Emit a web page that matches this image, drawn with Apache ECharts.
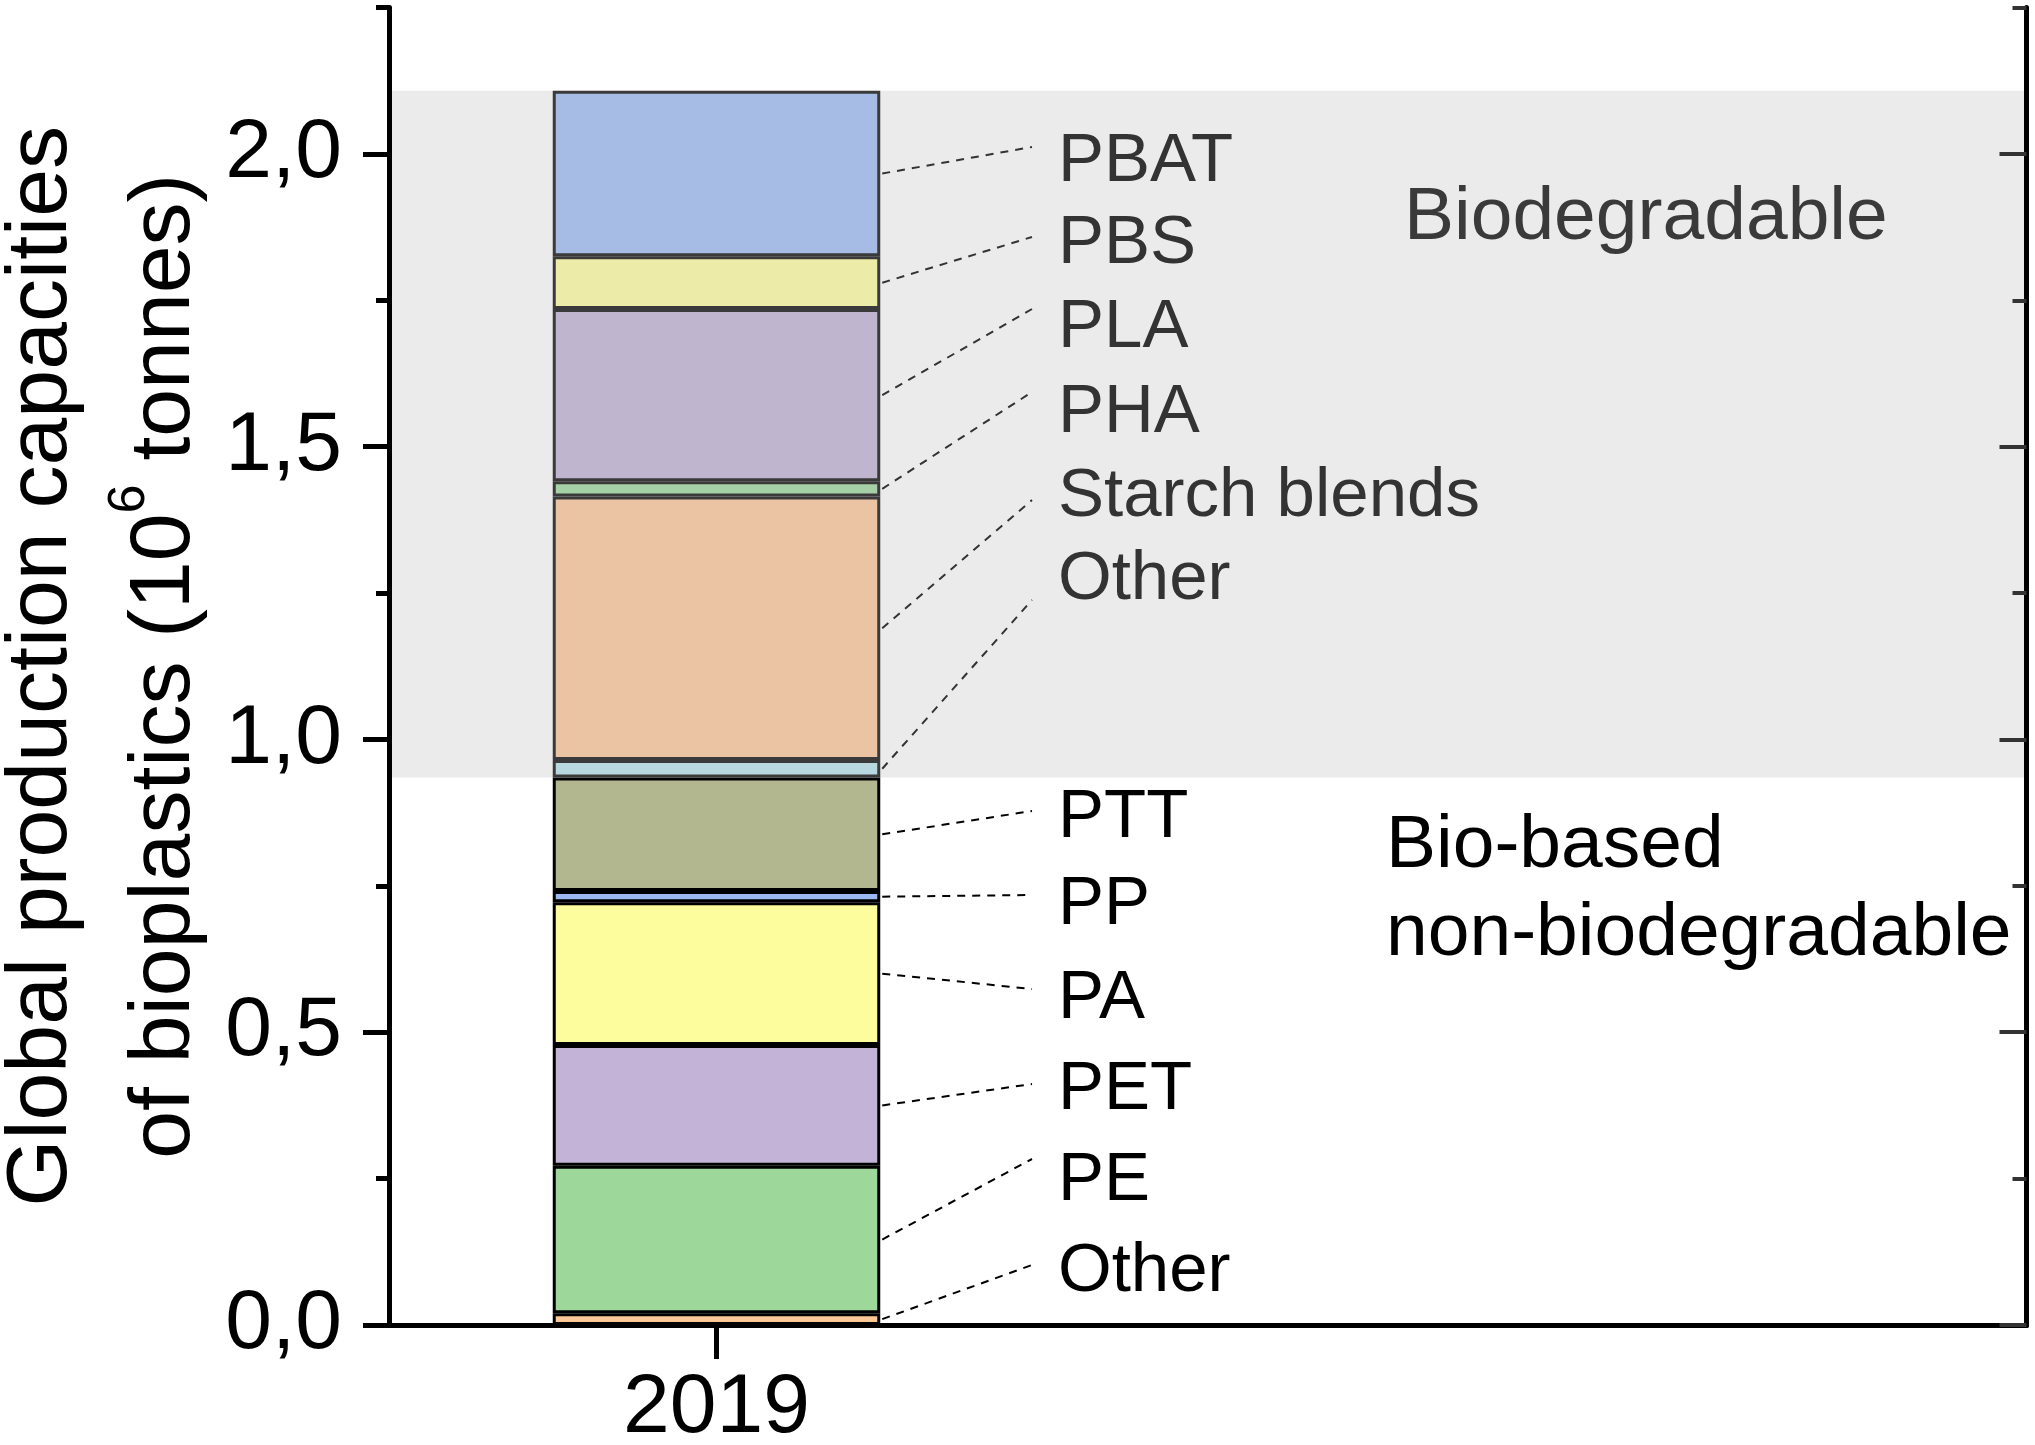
<!DOCTYPE html>
<html>
<head>
<meta charset="utf-8">
<script src="https://cdn.jsdelivr.net/npm/echarts@6/dist/echarts.min.js"></script>
<style>html,body{margin:0;padding:0;background:#fff}#c{width:2035px;height:1445px}</style>
</head>
<body>
<div id="c"></div>
<script>
// ---- data ----
const categories = ['2019'];
const bioBasedNames = ['Other', 'PE', 'PET', 'PA', 'PP', 'PTT'];
const bioBasedValues = [0.020, 0.252, 0.206, 0.244, 0.019, 0.194];
const biodegradableNames = ['Other', 'Starch blends', 'PHA', 'PLA', 'PBS', 'PBAT'];
const biodegradableValues = [0.030, 0.450, 0.026, 0.294, 0.090, 0.283];
const yTickValues = [0, 0.5, 1.0, 1.5, 2.0];
const yMinorTickValues = [0.25, 0.75, 1.25, 1.75, 2.25];
const groupLabels = ['Biodegradable', 'Bio-based', 'non-biodegradable'];

// ---- styles / layout ----
const FONT = '"Liberation Sans", Arial, sans-serif';
const bioBasedColors = ['#fdc895', '#9ed79a', '#c3b3d7', '#fdfd9d', '#9bb8f0', '#b2b790'];
const biodegColors = ['#b8d8e0', '#ebc4a4', '#a6d0a6', '#bfb5cf', '#ececa8', '#a6bce4'];
const bioBasedLabelY = [1272, 1181, 1090, 999, 905, 818];
const biodegLabelY = [580, 497, 413, 328, 244, 162];
const bioBasedLeaderDy = [-7, -22, -6, -10, -10, -7];
const biodegLeaderDy = [20, 3, -21, -19, -7, -15];
const LABEL_X = 1058, LEADER_END_X = 1032;

// category axis padded so the single bar sits at 1/5 of the width with width 1/5
const xCats = ['', categories[0], '', '', '', ''];
const catIdx = 1;

function makeBar(name, v, color, border) {
  const data = xCats.map((c, i) => (i === catIdx ? v : null));
  return {
    type: 'bar', name: name, stack: 'total', barWidth: '100%', data: data,
    itemStyle: { color: color, borderColor: border, borderWidth: 3 },
    emphasis: { disabled: true }, silent: true
  };
}
const series = [];
bioBasedNames.forEach((n, i) => series.push(makeBar(n, bioBasedValues[i], bioBasedColors[i], '#000')));
biodegradableNames.forEach((n, i) => series.push(makeBar(n, biodegradableValues[i], biodegColors[i], '#3a3a3a')));

const bioTotal = bioBasedValues.reduce((a, b) => a + b, 0);
const total = bioTotal + biodegradableValues.reduce((a, b) => a + b, 0);
series[bioBasedNames.length].markArea = {
  silent: true,
  itemStyle: { color: '#ebebeb', borderWidth: 0 },
  label: { show: false },
  data: [[{ yAxis: bioTotal }, { yAxis: total }]]
};

const fmt = v => v.toFixed(1).replace('.', ',');
const baseY = {
  type: 'value', min: 0, max: 2.25, z: 5,
  splitLine: { show: false }, minorTick: { show: false }
};
const titleTok = { fontSize: 86, fontFamily: FONT, color: '#000', lineHeight: 123 };

const option = {
  animation: false,
  grid: { left: 389, right: 8.5, top: 7.5, bottom: 120, containLabel: false, outerBoundsMode: 'none' },
  xAxis: [
    {
      type: 'category', data: xCats, boundaryGap: false, position: 'bottom', z: 5,
      axisLine: { lineStyle: { color: '#000', width: 5 } },
      axisTick: { show: true, inside: false, length: 26, interval: i => i === catIdx, lineStyle: { color: '#000', width: 5 } },
      axisLabel: { interval: i => i === catIdx, margin: 42, fontSize: 84, fontFamily: FONT, color: '#000' },
      splitLine: { show: false }
    },
    {
      type: 'category', data: xCats, boundaryGap: false, position: 'top', z: 5,
      axisLine: { lineStyle: { color: '#000', width: 5 } },
      axisTick: { show: true, inside: true, length: 34, interval: i => i === catIdx, lineStyle: { color: '#000', width: 5 } },
      axisLabel: { show: false }, splitLine: { show: false }
    }
  ],
  yAxis: [
    Object.assign({}, baseY, {
      position: 'left',
      axisLine: { show: true, lineStyle: { color: '#000', width: 5 } },
      axisTick: { show: true, inside: false, length: 26, customValues: yTickValues, lineStyle: { color: '#000', width: 5 } },
      axisLabel: { customValues: yTickValues, formatter: fmt, margin: 47, fontSize: 84, fontFamily: FONT, color: '#000' },
      name: '{t|Global production capacities}\n{t|of bioplastics (10}{sup|6}{t| tonnes)}',
      nameLocation: 'middle', nameGap: 162, nameRotate: 90, nameMoveOverlap: false,
      nameTextStyle: {
        fontSize: 86, fontFamily: FONT, color: '#000', lineHeight: 123,
        rich: {
          t: titleTok,
          sup: { fontSize: 52, fontFamily: FONT, color: '#000', lineHeight: 90, verticalAlign: 'top' }
        }
      }
    }),
    Object.assign({}, baseY, {
      position: 'left',
      axisLine: { show: false },
      axisTick: { show: true, inside: false, length: 13, customValues: yMinorTickValues, lineStyle: { color: '#000', width: 5 } },
      axisLabel: { show: false }
    }),
    Object.assign({}, baseY, {
      position: 'right',
      axisLine: { show: true, lineStyle: { color: '#000', width: 5 } },
      axisTick: { show: true, inside: true, length: 27, customValues: yTickValues, lineStyle: { color: '#333', width: 4 } },
      axisLabel: { show: false }
    }),
    Object.assign({}, baseY, {
      position: 'right',
      axisLine: { show: false },
      axisTick: { show: true, inside: true, length: 14, customValues: yMinorTickValues, lineStyle: { color: '#333', width: 4 } },
      axisLabel: { show: false }
    })
  ],
  series: series
};

const chart = echarts.init(document.getElementById('c'));
chart.setOption(option);

// ---- labels and leader lines ----
const p = (x, y) => chart.convertToPixel({ xAxisIndex: 0, yAxisIndex: 0 }, [x, y]);
const cxp = p(catIdx, 0)[0];
const bandW = p(catIdx + 1, 0)[0] - cxp;
const barRight = cxp + bandW / 2;
const elements = [];
let cum = 0;
function addGroup(names, values, labelY, dys, color) {
  names.forEach((n, i) => {
    const mid = cum + values[i] / 2;
    cum += values[i];
    const y0 = p(catIdx, mid)[1];
    elements.push({
      type: 'line', silent: true, z: 20,
      shape: { x1: barRight + 2, y1: y0, x2: LEADER_END_X, y2: labelY[i] + dys[i] },
      style: { stroke: color, lineWidth: 2, lineDash: [8, 7] }
    });
    elements.push({
      type: 'text', silent: true, z: 20, x: LABEL_X, y: labelY[i],
      style: { text: n, fontSize: 69, fontFamily: FONT, fill: color, align: 'left', verticalAlign: 'middle' }
    });
  });
}
addGroup(bioBasedNames, bioBasedValues, bioBasedLabelY, bioBasedLeaderDy, '#000');
addGroup(biodegradableNames, biodegradableValues, biodegLabelY, biodegLeaderDy, '#333');

elements.push({ type: 'text', silent: true, z: 20, x: 1404, y: 218,
  style: { text: groupLabels[0], fontSize: 75, fontFamily: FONT, fill: '#3a3a3a', align: 'left', verticalAlign: 'middle' } });
elements.push({ type: 'text', silent: true, z: 20, x: 1386, y: 846,
  style: { text: groupLabels[1], fontSize: 75, fontFamily: FONT, fill: '#000', align: 'left', verticalAlign: 'middle' } });
elements.push({ type: 'text', silent: true, z: 20, x: 1386, y: 934,
  style: { text: groupLabels[2], fontSize: 75, fontFamily: FONT, fill: '#000', align: 'left', verticalAlign: 'middle' } });

chart.setOption({ graphic: elements });
</script>
</body>
</html>
